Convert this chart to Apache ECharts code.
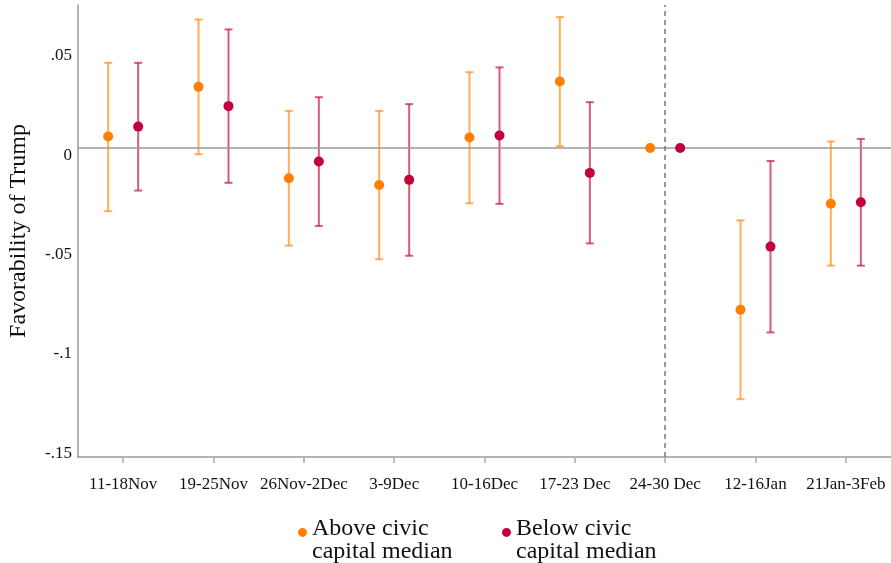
<!DOCTYPE html>
<html>
<head>
<meta charset="utf-8">
<script src="https://cdn.jsdelivr.net/npm/echarts@6/dist/echarts.min.js"></script>
<style>html,body{margin:0;padding:0;background:#fff}#c{width:891px;height:563px}</style>
</head>
<body>
<div id="c"></div>
<script>
var categories = ['11-18Nov','19-25Nov','26Nov-2Dec','3-9Dec','10-16Dec','17-23 Dec','24-30 Dec','12-16Jan','21Jan-3Feb'];
var aboveEst = [0.0058, 0.0308, -0.0152, -0.0186, 0.0053, 0.0335, 0, -0.0814, -0.0280];
var aboveLo  = [-0.0318, -0.0031, -0.0491, -0.0560, -0.0278, 0.0009, null, -0.1264, -0.0592];
var aboveHi  = [0.0429, 0.0647, 0.0187, 0.0187, 0.0382, 0.0659, null, -0.0364, 0.0033];
var belowEst = [0.0108, 0.0211, -0.0068, -0.0160, 0.0063, -0.0125, 0, -0.0496, -0.0273];
var belowLo  = [-0.0214, -0.0175, -0.0392, -0.0542, -0.0281, -0.0480, null, -0.0928, -0.0592];
var belowHi  = [0.0429, 0.0597, 0.0256, 0.0221, 0.0406, 0.0231, null, -0.0065, 0.0046];
var yTicks = [-0.15, -0.1, -0.05, 0, 0.05];
var seriesNames = ['Above civic capital median', 'Below civic capital median'];
var breakCategory = '24-30 Dec';

var FONT = 'Liberation Serif';
var OFF = 15;
var colAboveDot = '#ff8000', colAboveBar = 'rgba(255,140,20,0.7)';
var colBelowDot = '#c2003a', colBelowBar = 'rgba(200,20,70,0.7)';
// circle at the top of a taller box, so the dot sits beside the first text line
var legendIcon = 'path://M0,0A5,5,0,1,1,10,0A5,5,0,1,1,0,0ZM5,23L5,23Z';

function ciData(lo, hi) {
  var out = [];
  for (var i = 0; i < lo.length; i++) if (lo[i] != null) out.push([i, lo[i], hi[i]]);
  return out;
}
function ciSeries(lo, hi, off, color) {
  return {
    type: 'custom', silent: true, z: 3,
    data: ciData(lo, hi),
    renderItem: function (params, api) {
      var a = api.coord([api.value(0), api.value(1)]);
      var b = api.coord([api.value(0), api.value(2)]);
      var x = a[0] + off, cw = 4;
      var st = { stroke: color, lineWidth: 2 };
      return { type: 'group', children: [
        { type: 'line', shape: { x1: x, y1: a[1], x2: x, y2: b[1] }, style: st },
        { type: 'line', shape: { x1: x - cw, y1: a[1], x2: x + cw, y2: a[1] }, style: st },
        { type: 'line', shape: { x1: x - cw, y1: b[1], x2: x + cw, y2: b[1] }, style: st }
      ]};
    }
  };
}
function legendFmt(n) { return n.replace(' capital', '\ncapital'); }
var legendText = { fontFamily: FONT, fontSize: 24, color: '#111', lineHeight: 23 };

var chart = echarts.init(document.getElementById('c'));
chart.setOption({
  animation: false,
  backgroundColor: '#fff',
  grid: { left: 78, right: 0, top: 5, bottom: 106, outerBoundsMode: 'none', containLabel: false },
  legend: [
    { data: [seriesNames[0]], left: 293, top: 512, icon: legendIcon, itemWidth: 9, itemHeight: 27, itemTextGap: 11,
      formatter: legendFmt, textStyle: legendText },
    { data: [seriesNames[1]], left: 497, top: 512, icon: legendIcon, itemWidth: 9, itemHeight: 27, itemTextGap: 11,
      formatter: legendFmt, textStyle: legendText }
  ],
  xAxis: {
    type: 'category', data: categories, boundaryGap: true,
    axisLine: { onZero: false, lineStyle: { color: '#9a9a9a', width: 1.5 } },
    axisTick: { show: true, alignWithLabel: true, length: 6, lineStyle: { color: '#aaa', width: 1.5 } },
    axisLabel: { fontFamily: FONT, fontSize: 17, color: '#111', margin: 19, interval: 0 },
    splitLine: { show: false }
  },
  yAxis: {
    type: 'value', min: -0.1555, max: 0.072,
    name: 'Favorability of Trump', nameLocation: 'middle', nameRotate: 90, nameGap: 47,
    nameTextStyle: { fontFamily: FONT, fontSize: 24, color: '#111' },
    axisLine: { show: true, lineStyle: { color: '#9a9a9a', width: 1.5 } },
    axisTick: { show: false },
    splitLine: { show: false },
    axisLabel: {
      customValues: yTicks, fontFamily: FONT, fontSize: 17, color: '#111', margin: 6,
      verticalAlign: 'top', lineHeight: 14,
      formatter: function (v) {
        if (Math.abs(v) < 1e-9) return '0';
        var s = String(Math.round(v * 100) / 100);
        return s.replace('0.', '.');
      }
    }
  },
  series: [
    {
      type: 'line', data: [], silent: true,
      markLine: { symbol: 'none', silent: true, label: { show: false },
        data: [
          { yAxis: 0, lineStyle: { color: '#9a9a9a', width: 1.5, type: 'solid' } },
          { xAxis: breakCategory, lineStyle: { color: '#777', width: 1.5, type: [5, 4] } }
        ] }
    },
    ciSeries(aboveLo, aboveHi, -OFF, colAboveBar),
    ciSeries(belowLo, belowHi, OFF, colBelowBar),
    { name: seriesNames[0], type: 'scatter', z: 5, data: aboveEst, symbol: 'circle', symbolSize: 10,
      symbolOffset: [-OFF, 0], itemStyle: { color: colAboveDot, opacity: 1 } },
    { name: seriesNames[1], type: 'scatter', z: 5, data: belowEst, symbol: 'circle', symbolSize: 10,
      symbolOffset: [OFF, 0], itemStyle: { color: colBelowDot, opacity: 1 } }
  ]
});
</script>
</body>
</html>
